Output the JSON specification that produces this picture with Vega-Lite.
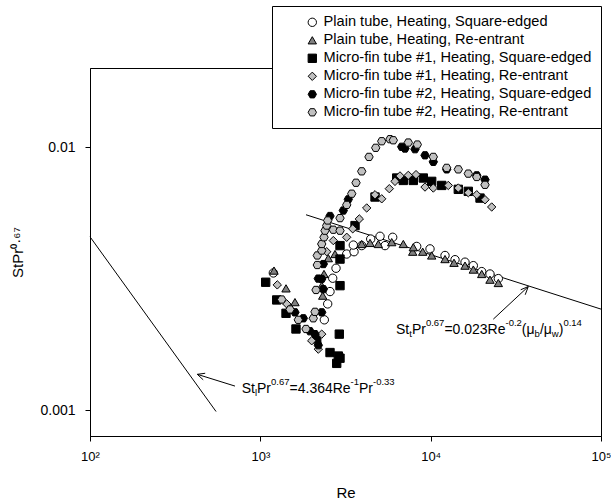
{
  "$schema": "https://vega.github.io/schema/vega-lite/v6.json",
  "width": 511,
  "height": 368,
  "autosize": {"type": "none"},
  "padding": {"left": 90, "top": 68, "right": 10, "bottom": 65},
  "background": "white",
  "config": {
    "font": "Liberation Sans",
    "view": {"stroke": "black", "strokeWidth": 1},
    "axis": {"grid": false, "domainColor": "black", "tickColor": "black", "labelColor": "black", "titleColor": "black", "titleFontWeight": "normal", "tickSize": 5, "labelFontSize": 14, "titleFontSize": 15, "labelFont": "Liberation Sans", "titleFont": "Liberation Sans"},
    "legend": {"orient": "none", "legendX": 182, "legendY": -62, "fillColor": "white", "strokeColor": "black", "padding": 9, "labelFontSize": 14.6, "labelFont": "Liberation Sans", "labelColor": "black", "symbolSize": 70, "symbolStrokeWidth": 1, "symbolOffset": 24, "rowPadding": 3, "labelOffset": 4, "labelLimit": 400}
  },
  "datasets": {
    "pts": [
      {"s": "Plain tube, Heating, Square-edged", "Re": 1192, "St": 0.00333},
      {"s": "Plain tube, Heating, Square-edged", "Re": 2375, "St": 0.00221},
      {"s": "Plain tube, Heating, Square-edged", "Re": 2486, "St": 0.00254},
      {"s": "Plain tube, Heating, Square-edged", "Re": 2565, "St": 0.00283},
      {"s": "Plain tube, Heating, Square-edged", "Re": 2660, "St": 0.00318},
      {"s": "Plain tube, Heating, Square-edged", "Re": 2782, "St": 0.00347},
      {"s": "Plain tube, Heating, Square-edged", "Re": 3215, "St": 0.00393},
      {"s": "Plain tube, Heating, Square-edged", "Re": 3549, "St": 0.00401},
      {"s": "Plain tube, Heating, Square-edged", "Re": 3515, "St": 0.00425},
      {"s": "Plain tube, Heating, Square-edged", "Re": 3937, "St": 0.00423},
      {"s": "Plain tube, Heating, Square-edged", "Re": 4446, "St": 0.00448},
      {"s": "Plain tube, Heating, Square-edged", "Re": 5043, "St": 0.00459},
      {"s": "Plain tube, Heating, Square-edged", "Re": 5395, "St": 0.00423},
      {"s": "Plain tube, Heating, Square-edged", "Re": 5985, "St": 0.00455},
      {"s": "Plain tube, Heating, Square-edged", "Re": 8281, "St": 0.0042},
      {"s": "Plain tube, Heating, Square-edged", "Re": 9911, "St": 0.00411},
      {"s": "Plain tube, Heating, Square-edged", "Re": 12140, "St": 0.00388},
      {"s": "Plain tube, Heating, Square-edged", "Re": 13900, "St": 0.00374},
      {"s": "Plain tube, Heating, Square-edged", "Re": 15910, "St": 0.00366},
      {"s": "Plain tube, Heating, Square-edged", "Re": 17800, "St": 0.00355},
      {"s": "Plain tube, Heating, Square-edged", "Re": 19940, "St": 0.00337},
      {"s": "Plain tube, Heating, Square-edged", "Re": 22300, "St": 0.0033},
      {"s": "Plain tube, Heating, Square-edged", "Re": 24960, "St": 0.00317},
      {"s": "Plain tube, Heating, Re-entrant", "Re": 1203, "St": 0.0034},
      {"s": "Plain tube, Heating, Re-entrant", "Re": 1415, "St": 0.00291},
      {"s": "Plain tube, Heating, Re-entrant", "Re": 1597, "St": 0.00258},
      {"s": "Plain tube, Heating, Re-entrant", "Re": 2293, "St": 0.00298},
      {"s": "Plain tube, Heating, Re-entrant", "Re": 2324, "St": 0.00273},
      {"s": "Plain tube, Heating, Re-entrant", "Re": 2365, "St": 0.0033},
      {"s": "Plain tube, Heating, Re-entrant", "Re": 2506, "St": 0.00379},
      {"s": "Plain tube, Heating, Re-entrant", "Re": 2744, "St": 0.00393},
      {"s": "Plain tube, Heating, Re-entrant", "Re": 3937, "St": 0.00429},
      {"s": "Plain tube, Heating, Re-entrant", "Re": 4405, "St": 0.00433},
      {"s": "Plain tube, Heating, Re-entrant", "Re": 4928, "St": 0.00429},
      {"s": "Plain tube, Heating, Re-entrant", "Re": 5905, "St": 0.00436},
      {"s": "Plain tube, Heating, Re-entrant", "Re": 6909, "St": 0.00429},
      {"s": "Plain tube, Heating, Re-entrant", "Re": 7844, "St": 0.00401},
      {"s": "Plain tube, Heating, Re-entrant", "Re": 7908, "St": 0.00417},
      {"s": "Plain tube, Heating, Re-entrant", "Re": 8980, "St": 0.00401},
      {"s": "Plain tube, Heating, Re-entrant", "Re": 10141, "St": 0.00388},
      {"s": "Plain tube, Heating, Re-entrant", "Re": 12140, "St": 0.00376},
      {"s": "Plain tube, Heating, Re-entrant", "Re": 13710, "St": 0.00364},
      {"s": "Plain tube, Heating, Re-entrant", "Re": 15910, "St": 0.00355},
      {"s": "Plain tube, Heating, Re-entrant", "Re": 17800, "St": 0.00343},
      {"s": "Plain tube, Heating, Re-entrant", "Re": 19940, "St": 0.0033},
      {"s": "Plain tube, Heating, Re-entrant", "Re": 22300, "St": 0.00314},
      {"s": "Plain tube, Heating, Re-entrant", "Re": 24960, "St": 0.00305},
      {"s": "Micro-fin tube #1, Heating, Square-edged", "Re": 1075, "St": 0.00307},
      {"s": "Micro-fin tube #1, Heating, Square-edged", "Re": 1248, "St": 0.00263},
      {"s": "Micro-fin tube #1, Heating, Square-edged", "Re": 1415, "St": 0.00234},
      {"s": "Micro-fin tube #1, Heating, Square-edged", "Re": 1619, "St": 0.00204},
      {"s": "Micro-fin tube #1, Heating, Square-edged", "Re": 2143, "St": 0.00187},
      {"s": "Micro-fin tube #1, Heating, Square-edged", "Re": 2565, "St": 0.00166},
      {"s": "Micro-fin tube #1, Heating, Square-edged", "Re": 2870, "St": 0.00161},
      {"s": "Micro-fin tube #1, Heating, Square-edged", "Re": 2808, "St": 0.00151},
      {"s": "Micro-fin tube #1, Heating, Square-edged", "Re": 2936, "St": 0.00158},
      {"s": "Micro-fin tube #1, Heating, Square-edged", "Re": 2908, "St": 0.00195},
      {"s": "Micro-fin tube #1, Heating, Square-edged", "Re": 2936, "St": 0.00298},
      {"s": "Micro-fin tube #1, Heating, Square-edged", "Re": 2936, "St": 0.00376},
      {"s": "Micro-fin tube #1, Heating, Square-edged", "Re": 2936, "St": 0.00423},
      {"s": "Micro-fin tube #1, Heating, Square-edged", "Re": 3597, "St": 0.00504},
      {"s": "Micro-fin tube #1, Heating, Square-edged", "Re": 4713, "St": 0.00647},
      {"s": "Micro-fin tube #1, Heating, Square-edged", "Re": 6318, "St": 0.00764},
      {"s": "Micro-fin tube #1, Heating, Square-edged", "Re": 6909, "St": 0.00748},
      {"s": "Micro-fin tube #1, Heating, Square-edged", "Re": 7908, "St": 0.00748},
      {"s": "Micro-fin tube #1, Heating, Square-edged", "Re": 9053, "St": 0.00764},
      {"s": "Micro-fin tube #1, Heating, Square-edged", "Re": 10141, "St": 0.00742},
      {"s": "Micro-fin tube #1, Heating, Square-edged", "Re": 11610, "St": 0.00716},
      {"s": "Micro-fin tube #1, Heating, Square-edged", "Re": 14530, "St": 0.00692},
      {"s": "Micro-fin tube #1, Heating, Square-edged", "Re": 16630, "St": 0.0068},
      {"s": "Micro-fin tube #1, Heating, Square-edged", "Re": 19490, "St": 0.00641},
      {"s": "Micro-fin tube #1, Heating, Re-entrant", "Re": 1258, "St": 0.003},
      {"s": "Micro-fin tube #1, Heating, Re-entrant", "Re": 1429, "St": 0.00254},
      {"s": "Micro-fin tube #1, Heating, Re-entrant", "Re": 2003, "St": 0.00184},
      {"s": "Micro-fin tube #1, Heating, Re-entrant", "Re": 2189, "St": 0.00171},
      {"s": "Micro-fin tube #1, Heating, Re-entrant", "Re": 2293, "St": 0.00195},
      {"s": "Micro-fin tube #1, Heating, Re-entrant", "Re": 2453, "St": 0.00401},
      {"s": "Micro-fin tube #1, Heating, Re-entrant", "Re": 2682, "St": 0.00442},
      {"s": "Micro-fin tube #1, Heating, Re-entrant", "Re": 3215, "St": 0.00455},
      {"s": "Micro-fin tube #1, Heating, Re-entrant", "Re": 3487, "St": 0.0049},
      {"s": "Micro-fin tube #1, Heating, Re-entrant", "Re": 3812, "St": 0.00534},
      {"s": "Micro-fin tube #1, Heating, Re-entrant", "Re": 4212, "St": 0.00588},
      {"s": "Micro-fin tube #1, Heating, Re-entrant", "Re": 4713, "St": 0.0066},
      {"s": "Micro-fin tube #1, Heating, Re-entrant", "Re": 5160, "St": 0.00637},
      {"s": "Micro-fin tube #1, Heating, Re-entrant", "Re": 5717, "St": 0.00696},
      {"s": "Micro-fin tube #1, Heating, Re-entrant", "Re": 6174, "St": 0.00742},
      {"s": "Micro-fin tube #1, Heating, Re-entrant", "Re": 6607, "St": 0.00778},
      {"s": "Micro-fin tube #1, Heating, Re-entrant", "Re": 7390, "St": 0.00782},
      {"s": "Micro-fin tube #1, Heating, Re-entrant", "Re": 8204, "St": 0.00787},
      {"s": "Micro-fin tube #1, Heating, Re-entrant", "Re": 9264, "St": 0.00706},
      {"s": "Micro-fin tube #1, Heating, Re-entrant", "Re": 10363, "St": 0.007},
      {"s": "Micro-fin tube #1, Heating, Re-entrant", "Re": 12690, "St": 0.00716},
      {"s": "Micro-fin tube #1, Heating, Re-entrant", "Re": 14530, "St": 0.007},
      {"s": "Micro-fin tube #1, Heating, Re-entrant", "Re": 16630, "St": 0.00672},
      {"s": "Micro-fin tube #1, Heating, Re-entrant", "Re": 18640, "St": 0.0066},
      {"s": "Micro-fin tube #1, Heating, Re-entrant", "Re": 20850, "St": 0.00632},
      {"s": "Micro-fin tube #1, Heating, Re-entrant", "Re": 22820, "St": 0.00593},
      {"s": "Micro-fin tube #2, Heating, Square-edged", "Re": 1597, "St": 0.00236},
      {"s": "Micro-fin tube #2, Heating, Square-edged", "Re": 1788, "St": 0.00224},
      {"s": "Micro-fin tube #2, Heating, Square-edged", "Re": 1957, "St": 0.002},
      {"s": "Micro-fin tube #2, Heating, Square-edged", "Re": 2094, "St": 0.00195},
      {"s": "Micro-fin tube #2, Heating, Square-edged", "Re": 2189, "St": 0.00177},
      {"s": "Micro-fin tube #2, Heating, Square-edged", "Re": 2293, "St": 0.00236},
      {"s": "Micro-fin tube #2, Heating, Square-edged", "Re": 2343, "St": 0.00289},
      {"s": "Micro-fin tube #2, Heating, Square-edged", "Re": 2293, "St": 0.00316},
      {"s": "Micro-fin tube #2, Heating, Square-edged", "Re": 2343, "St": 0.0036},
      {"s": "Micro-fin tube #2, Heating, Square-edged", "Re": 2189, "St": 0.00317},
      {"s": "Micro-fin tube #2, Heating, Square-edged", "Re": 2565, "St": 0.00548},
      {"s": "Micro-fin tube #2, Heating, Square-edged", "Re": 3070, "St": 0.00575},
      {"s": "Micro-fin tube #2, Heating, Square-edged", "Re": 3285, "St": 0.00634},
      {"s": "Micro-fin tube #2, Heating, Square-edged", "Re": 6761, "St": 0.01004},
      {"s": "Micro-fin tube #2, Heating, Square-edged", "Re": 7068, "St": 0.00989},
      {"s": "Micro-fin tube #2, Heating, Square-edged", "Re": 8092, "St": 0.00983},
      {"s": "Micro-fin tube #2, Heating, Square-edged", "Re": 9264, "St": 0.00932},
      {"s": "Micro-fin tube #2, Heating, Square-edged", "Re": 10363, "St": 0.0088},
      {"s": "Micro-fin tube #2, Heating, Square-edged", "Re": 12420, "St": 0.00824},
      {"s": "Micro-fin tube #2, Heating, Square-edged", "Re": 18640, "St": 0.00782},
      {"s": "Micro-fin tube #2, Heating, Square-edged", "Re": 20850, "St": 0.00753},
      {"s": "Micro-fin tube #2, Heating, Re-entrant", "Re": 1335, "St": 0.00264},
      {"s": "Micro-fin tube #2, Heating, Re-entrant", "Re": 1494, "St": 0.00242},
      {"s": "Micro-fin tube #2, Heating, Re-entrant", "Re": 1671, "St": 0.00221},
      {"s": "Micro-fin tube #2, Heating, Re-entrant", "Re": 1854, "St": 0.00204},
      {"s": "Micro-fin tube #2, Heating, Re-entrant", "Re": 2046, "St": 0.00224},
      {"s": "Micro-fin tube #2, Heating, Re-entrant", "Re": 2094, "St": 0.00237},
      {"s": "Micro-fin tube #2, Heating, Re-entrant", "Re": 2123, "St": 0.00287},
      {"s": "Micro-fin tube #2, Heating, Re-entrant", "Re": 2160, "St": 0.00357},
      {"s": "Micro-fin tube #2, Heating, Re-entrant", "Re": 2160, "St": 0.00388},
      {"s": "Micro-fin tube #2, Heating, Re-entrant", "Re": 2293, "St": 0.00405},
      {"s": "Micro-fin tube #2, Heating, Re-entrant", "Re": 2293, "St": 0.00429},
      {"s": "Micro-fin tube #2, Heating, Re-entrant", "Re": 2365, "St": 0.00455},
      {"s": "Micro-fin tube #2, Heating, Re-entrant", "Re": 2397, "St": 0.00482},
      {"s": "Micro-fin tube #2, Heating, Re-entrant", "Re": 2453, "St": 0.00504},
      {"s": "Micro-fin tube #2, Heating, Re-entrant", "Re": 2486, "St": 0.00527},
      {"s": "Micro-fin tube #2, Heating, Re-entrant", "Re": 2682, "St": 0.00486},
      {"s": "Micro-fin tube #2, Heating, Re-entrant", "Re": 2936, "St": 0.00482},
      {"s": "Micro-fin tube #2, Heating, Re-entrant", "Re": 2936, "St": 0.00538},
      {"s": "Micro-fin tube #2, Heating, Re-entrant", "Re": 3215, "St": 0.00604},
      {"s": "Micro-fin tube #2, Heating, Re-entrant", "Re": 3440, "St": 0.00666},
      {"s": "Micro-fin tube #2, Heating, Re-entrant", "Re": 3646, "St": 0.00733},
      {"s": "Micro-fin tube #2, Heating, Re-entrant", "Re": 3937, "St": 0.0081},
      {"s": "Micro-fin tube #2, Heating, Re-entrant", "Re": 4345, "St": 0.00919},
      {"s": "Micro-fin tube #2, Heating, Re-entrant", "Re": 4758, "St": 0.00995},
      {"s": "Micro-fin tube #2, Heating, Re-entrant", "Re": 5160, "St": 0.01054},
      {"s": "Micro-fin tube #2, Heating, Re-entrant", "Re": 5771, "St": 0.01073},
      {"s": "Micro-fin tube #2, Heating, Re-entrant", "Re": 6035, "St": 0.01063},
      {"s": "Micro-fin tube #2, Heating, Re-entrant", "Re": 7390, "St": 0.01042},
      {"s": "Micro-fin tube #2, Heating, Re-entrant", "Re": 8348, "St": 0.01024},
      {"s": "Micro-fin tube #2, Heating, Re-entrant", "Re": 10363, "St": 0.00919},
      {"s": "Micro-fin tube #2, Heating, Re-entrant", "Re": 12420, "St": 0.00835},
      {"s": "Micro-fin tube #2, Heating, Re-entrant", "Re": 14530, "St": 0.00824},
      {"s": "Micro-fin tube #2, Heating, Re-entrant", "Re": 16630, "St": 0.00794},
      {"s": "Micro-fin tube #2, Heating, Re-entrant", "Re": 18640, "St": 0.00771},
      {"s": "Micro-fin tube #2, Heating, Re-entrant", "Re": 20850, "St": 0.0072}
    ],
    "rules": [
      {"Re": 100, "St": 0.00457, "Re2": 549.6, "St2": 0.000991},
      {"Re": 1854, "St": 0.00554, "Re2": 100000, "St2": 0.002427},
      {"Re": 710, "St": 0.001238, "Re2": 426.6, "St2": 0.001372},
      {"Re": 461.9, "St": 0.001308, "Re2": 426.6, "St2": 0.001372},
      {"Re": 474.6, "St": 0.001385, "Re2": 426.6, "St2": 0.001372},
      {"Re": 23320, "St": 0.002223, "Re2": 37430, "St2": 0.002957},
      {"Re": 33780, "St": 0.002875, "Re2": 37430, "St2": 0.002957},
      {"Re": 35890, "St": 0.002752, "Re2": 37430, "St2": 0.002957}
    ],
    "labels": [
      {"Re": 777.1, "St": 0.001168, "t": "St", "role": "base"},
      {"Re": 929.3, "St": 0.001168, "t": "l", "role": "sub"},
      {"Re": 956.0, "St": 0.001168, "t": "Pr", "role": "base"},
      {"Re": 1155, "St": 0.001168, "t": "0.67", "role": "sup"},
      {"Re": 1484, "St": 0.001168, "t": "=4.364Re", "role": "base"},
      {"Re": 3388, "St": 0.001168, "t": "-1", "role": "sup"},
      {"Re": 3796, "St": 0.001168, "t": "Pr", "role": "base"},
      {"Re": 4586, "St": 0.001168, "t": "-0.33", "role": "sup"},
      {"Re": 6259, "St": 0.001957, "t": "St", "role": "base"},
      {"Re": 7482, "St": 0.001957, "t": "t", "role": "sub"},
      {"Re": 7761, "St": 0.001957, "t": "Pr", "role": "base"},
      {"Re": 9376, "St": 0.001957, "t": "0.67", "role": "sup"},
      {"Re": 12040, "St": 0.001957, "t": "=0.023Re", "role": "base"},
      {"Re": 27510, "St": 0.001957, "t": "-0.2", "role": "sup"},
      {"Re": 34290, "St": 0.001957, "t": "(μ", "role": "base"},
      {"Re": 40760, "St": 0.001957, "t": "b", "role": "sub"},
      {"Re": 43780, "St": 0.001957, "t": "/μ", "role": "base"},
      {"Re": 51430, "St": 0.001957, "t": "w", "role": "sub"},
      {"Re": 56450, "St": 0.001957, "t": ")", "role": "base"},
      {"Re": 60160, "St": 0.001957, "t": "0.14", "role": "sup"}
    ]
  },
  "layer": [
    {
      "data": {"name": "rules"},
      "mark": {"type": "rule", "color": "black", "strokeWidth": 1},
      "encoding": {
        "x": {"field": "Re", "type": "quantitative", "scale": {"type": "log", "domain": [100, 100000], "nice": false},
          "axis": {"title": "Re", "values": [100, 1000, 10000, 100000], "labelExpr": "datum.value == 100 ? '10²' : datum.value == 1000 ? '10³' : datum.value == 10000 ? '10⁴' : '10⁵'", "labelFlush": false, "labelFontSize": 13, "labelPadding": 9, "titlePadding": 22}},
        "y": {"field": "St", "type": "quantitative", "scale": {"type": "log", "domain": [0.0008, 0.02], "nice": false},
          "axis": {"title": "StPr⁰·⁶⁷", "values": [0.001, 0.01], "labelExpr": "datum.value == 0.01 ? '0.01' : '0.001'", "labelPadding": 10, "titlePadding": 14}},
        "x2": {"field": "Re2"},
        "y2": {"field": "St2"}
      }
    },
    {
      "data": {"name": "pts"},
      "mark": {"type": "point", "filled": true, "strokeWidth": 1, "opacity": 1, "size": 70},
      "encoding": {
        "x": {"field": "Re", "type": "quantitative", "scale": {"type": "log", "domain": [100, 100000], "nice": false}},
        "y": {"field": "St", "type": "quantitative", "scale": {"type": "log", "domain": [0.0008, 0.02], "nice": false}},
        "stroke": {"field": "s", "type": "nominal", "title": null,
          "scale": {"domain": ["Plain tube, Heating, Square-edged", "Plain tube, Heating, Re-entrant", "Micro-fin tube #1, Heating, Square-edged", "Micro-fin tube #1, Heating, Re-entrant", "Micro-fin tube #2, Heating, Square-edged", "Micro-fin tube #2, Heating, Re-entrant"],
            "range": ["#000000", "#000000", "#000000", "#000000", "#000000", "#000000"]}},
        "shape": {"field": "s", "type": "nominal", "title": null,
          "scale": {"domain": ["Plain tube, Heating, Square-edged", "Plain tube, Heating, Re-entrant", "Micro-fin tube #1, Heating, Square-edged", "Micro-fin tube #1, Heating, Re-entrant", "Micro-fin tube #2, Heating, Square-edged", "Micro-fin tube #2, Heating, Re-entrant"],
            "range": ["circle", "triangle-up", "square", "diamond", "M-1,0L-0.5,-0.866L0.5,-0.866L1,0L0.5,0.866L-0.5,0.866Z", "M-1,0L-0.5,-0.866L0.5,-0.866L1,0L0.5,0.866L-0.5,0.866Z"]}},
        "fill": {"field": "s", "type": "nominal", "title": null,
          "scale": {"domain": ["Plain tube, Heating, Square-edged", "Plain tube, Heating, Re-entrant", "Micro-fin tube #1, Heating, Square-edged", "Micro-fin tube #1, Heating, Re-entrant", "Micro-fin tube #2, Heating, Square-edged", "Micro-fin tube #2, Heating, Re-entrant"],
            "range": ["#ffffff", "#808080", "#000000", "#c0c0c0", "#000000", "#c0c0c0"]}}
      }
    },
    {
      "data": {"name": "labels"},
      "transform": [{"filter": "datum.role === 'base'"}],
      "mark": {"type": "text", "align": "left", "baseline": "alphabetic", "fontSize": 14, "color": "black"},
      "encoding": {
        "x": {"field": "Re", "type": "quantitative", "scale": {"type": "log", "domain": [100, 100000], "nice": false}},
        "y": {"field": "St", "type": "quantitative", "scale": {"type": "log", "domain": [0.0008, 0.02], "nice": false}},
        "text": {"field": "t"}
      }
    },
    {
      "data": {"name": "labels"},
      "transform": [{"filter": "datum.role === 'sup'"}],
      "mark": {"type": "text", "align": "left", "baseline": "alphabetic", "fontSize": 9.5, "dy": -8, "color": "black"},
      "encoding": {
        "x": {"field": "Re", "type": "quantitative", "scale": {"type": "log", "domain": [100, 100000], "nice": false}},
        "y": {"field": "St", "type": "quantitative", "scale": {"type": "log", "domain": [0.0008, 0.02], "nice": false}},
        "text": {"field": "t"}
      }
    },
    {
      "data": {"name": "labels"},
      "transform": [{"filter": "datum.role === 'sub'"}],
      "mark": {"type": "text", "align": "left", "baseline": "alphabetic", "fontSize": 9.5, "dy": 3, "color": "black"},
      "encoding": {
        "x": {"field": "Re", "type": "quantitative", "scale": {"type": "log", "domain": [100, 100000], "nice": false}},
        "y": {"field": "St", "type": "quantitative", "scale": {"type": "log", "domain": [0.0008, 0.02], "nice": false}},
        "text": {"field": "t"}
      }
    }
  ]
}
